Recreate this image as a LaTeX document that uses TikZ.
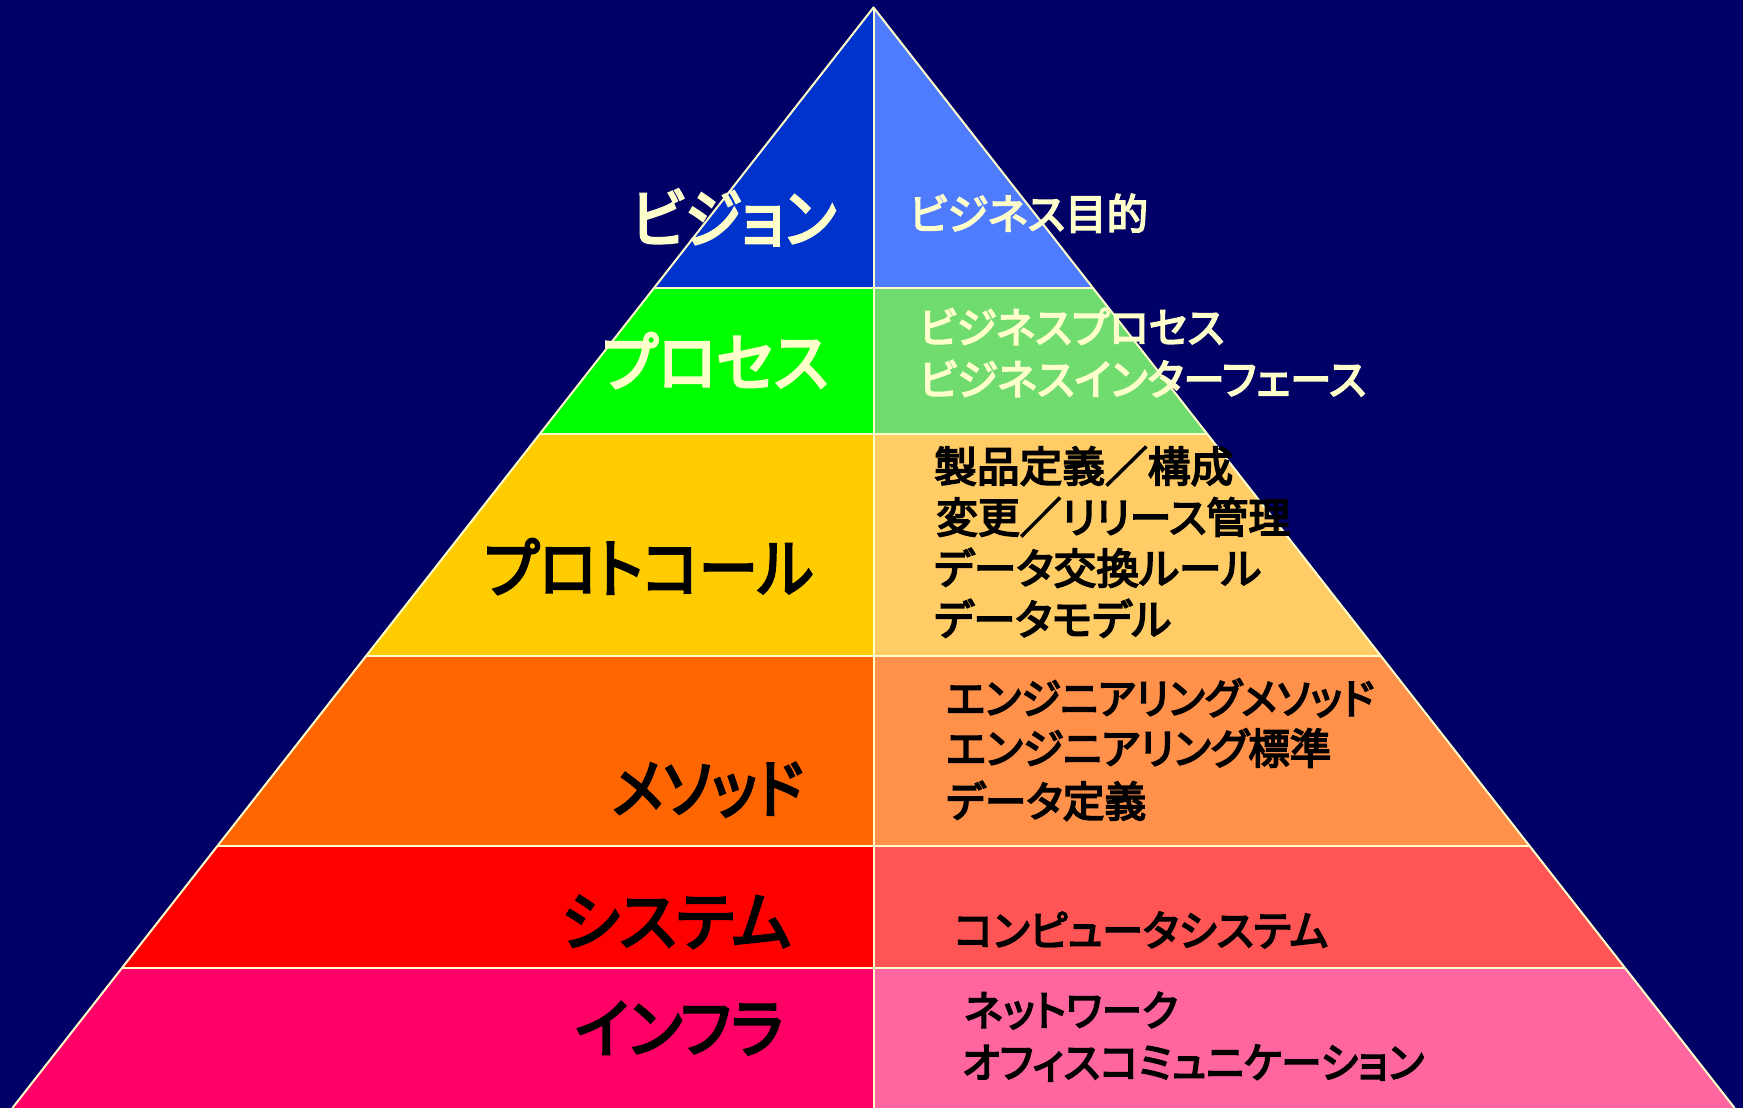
\documentclass[tikz,border=0pt]{standalone}
\usepackage{fontspec}
\usepackage{graphicx}
\newfontfamily\jpf{Noto Sans CJK JP}[RawFeature=+palt,FakeBold=4]
\definecolor{bg}{HTML}{000066}
\definecolor{cream}{HTML}{FFFFCC}
\definecolor{visL}{HTML}{0033CC}
\definecolor{visR}{HTML}{4F7BFF}
\definecolor{proL}{HTML}{00FF00}
\definecolor{proR}{HTML}{70DC70}
\definecolor{ptcL}{HTML}{FFCC00}
\definecolor{ptcR}{HTML}{FFCC66}
\definecolor{metL}{HTML}{FF6600}
\definecolor{metR}{HTML}{FF914A}
\definecolor{sysL}{HTML}{FF0000}
\definecolor{sysR}{HTML}{FF5555}
\definecolor{infL}{HTML}{FF0066}
\definecolor{infR}{HTML}{FF66A0}
\newsavebox\fitbox
\newcommand\fitx[2]{\sbox\fitbox{#2}\edef\fitr{\fpeval{#1/(\the\wd\fitbox)}}\scalebox{\fitr}[1]{\usebox\fitbox}}
\begin{document}
\begin{tikzpicture}[x=1pt,y=-1pt,
  edge/.style={draw=cream,line width=2pt,line join=round},
  lab/.style={anchor=base west,inner sep=0pt,font=\jpf\fontsize{64}{70}\selectfont},
  desc/.style={anchor=base west,inner sep=0pt,font=\jpf\fontsize{42}{50}\selectfont},
  wlab/.style={lab,text=cream},
  bdesc/.style={desc,text=black},
  wdesc/.style={desc,text=cream},
  blab/.style={lab,text=black}]
\useasboundingbox (0,0) rectangle (1743,1108);
\fill[bg] (0,0) rectangle (1743,1108);
\coordinate (apex) at (873.5,7.5);
\coordinate (c1) at (873.5,287.5);
\coordinate (c2) at (873.5,433.5);
\coordinate (c3) at (873.5,656);
\coordinate (c4) at (873.5,846);
\coordinate (c5) at (873.5,967.5);
\coordinate (c6) at (873.5,1108);
\coordinate (l1) at (654.4,287.5);   \coordinate (r1) at (1092.6,287.5);
\coordinate (l2) at (540.1,433.5);   \coordinate (r2) at (1206.9,433.5);
\coordinate (l3) at (366.0,656);     \coordinate (r3) at (1381.0,656);
\coordinate (l4) at (217.4,846);     \coordinate (r4) at (1529.6,846);
\coordinate (l5) at (122.3,967.5);   \coordinate (r5) at (1624.7,967.5);
\coordinate (l6) at (12.4,1108);     \coordinate (r6) at (1734.6,1108);
% bands
\fill[visL] (apex) -- (l1) -- (c1) -- cycle;
\fill[visR] (apex) -- (c1) -- (r1) -- cycle;
\fill[proL] (l1) -- (l2) -- (c2) -- (c1) -- cycle;
\fill[proR] (c1) -- (c2) -- (r2) -- (r1) -- cycle;
\fill[ptcL] (l2) -- (l3) -- (c3) -- (c2) -- cycle;
\fill[ptcR] (c2) -- (c3) -- (r3) -- (r2) -- cycle;
\fill[metL] (l3) -- (l4) -- (c4) -- (c3) -- cycle;
\fill[metR] (c3) -- (c4) -- (r4) -- (r3) -- cycle;
\fill[sysL] (l4) -- (l5) -- (c5) -- (c4) -- cycle;
\fill[sysR] (c4) -- (c5) -- (r5) -- (r4) -- cycle;
\fill[infL] (l5) -- (l6) -- (c6) -- (c5) -- cycle;
\fill[infR] (c5) -- (c6) -- (r6) -- (r5) -- cycle;
% outlines
\draw[edge] (l6) -- (apex) -- (r6);
\draw[edge] (apex) -- (c6);
\draw[edge] (l1) -- (r1);
\draw[edge] (l2) -- (r2);
\draw[edge] (l3) -- (r3);
\draw[edge] (l4) -- (r4);
\draw[edge] (l5) -- (r5);
% left labels
\node[wlab] (vision)   at (631,242) {\fitx{205}{ビジョン}};
\node[wlab] (process)  at (602,386) {\fitx{226}{プロセス}};
\node[blab] (protocol) at (484,592) {\fitx{329}{プロトコール}};
\node[blab] (method)   at (612,812) {\fitx{191}{メソッド}};
\node[blab] (system)   at (561,945) {\fitx{230}{システム}};
\node[blab] (infra)    at (575,1052) {\fitx{208}{インフラ}};
% right descriptions
\node[wdesc] (d1a) at (909,229.5) {\fitx{239}{ビジネス目的}};
\node[wdesc] (d2a) at (919,343) {\fitx{305}{ビジネスプロセス}};
\node[wdesc] (d2b) at (919,395) {\fitx{447}{ビジネスインターフェース}};
\node[bdesc] (d3a) at (934,482) {\fitx{299}{製品定義／構成}};
\node[bdesc] (d3b) at (936,533) {\fitx{354}{変更／リリース管理}};
\node[bdesc] (d3c) at (934,584) {\fitx{327}{データ交換ルール}};
\node[bdesc] (d3d) at (934,635) {\fitx{237}{データモデル}};
\node[bdesc] (d4a) at (946,714) {\fitx{428}{エンジニアリングメソッド}};
\node[bdesc] (d4b) at (946,764) {\fitx{385}{エンジニアリング標準}};
\node[bdesc] (d4c) at (946,817) {\fitx{200}{データ定義}};
\node[bdesc] (d5a) at (954,946) {\fitx{374}{コンピュータシステム}};
\node[bdesc] (d6a) at (964,1026) {\fitx{214}{ネットワーク}};
\node[bdesc] (d6b) at (962,1078) {\fitx{462}{オフィスコミュニケーション}};
\end{tikzpicture}
\end{document}
